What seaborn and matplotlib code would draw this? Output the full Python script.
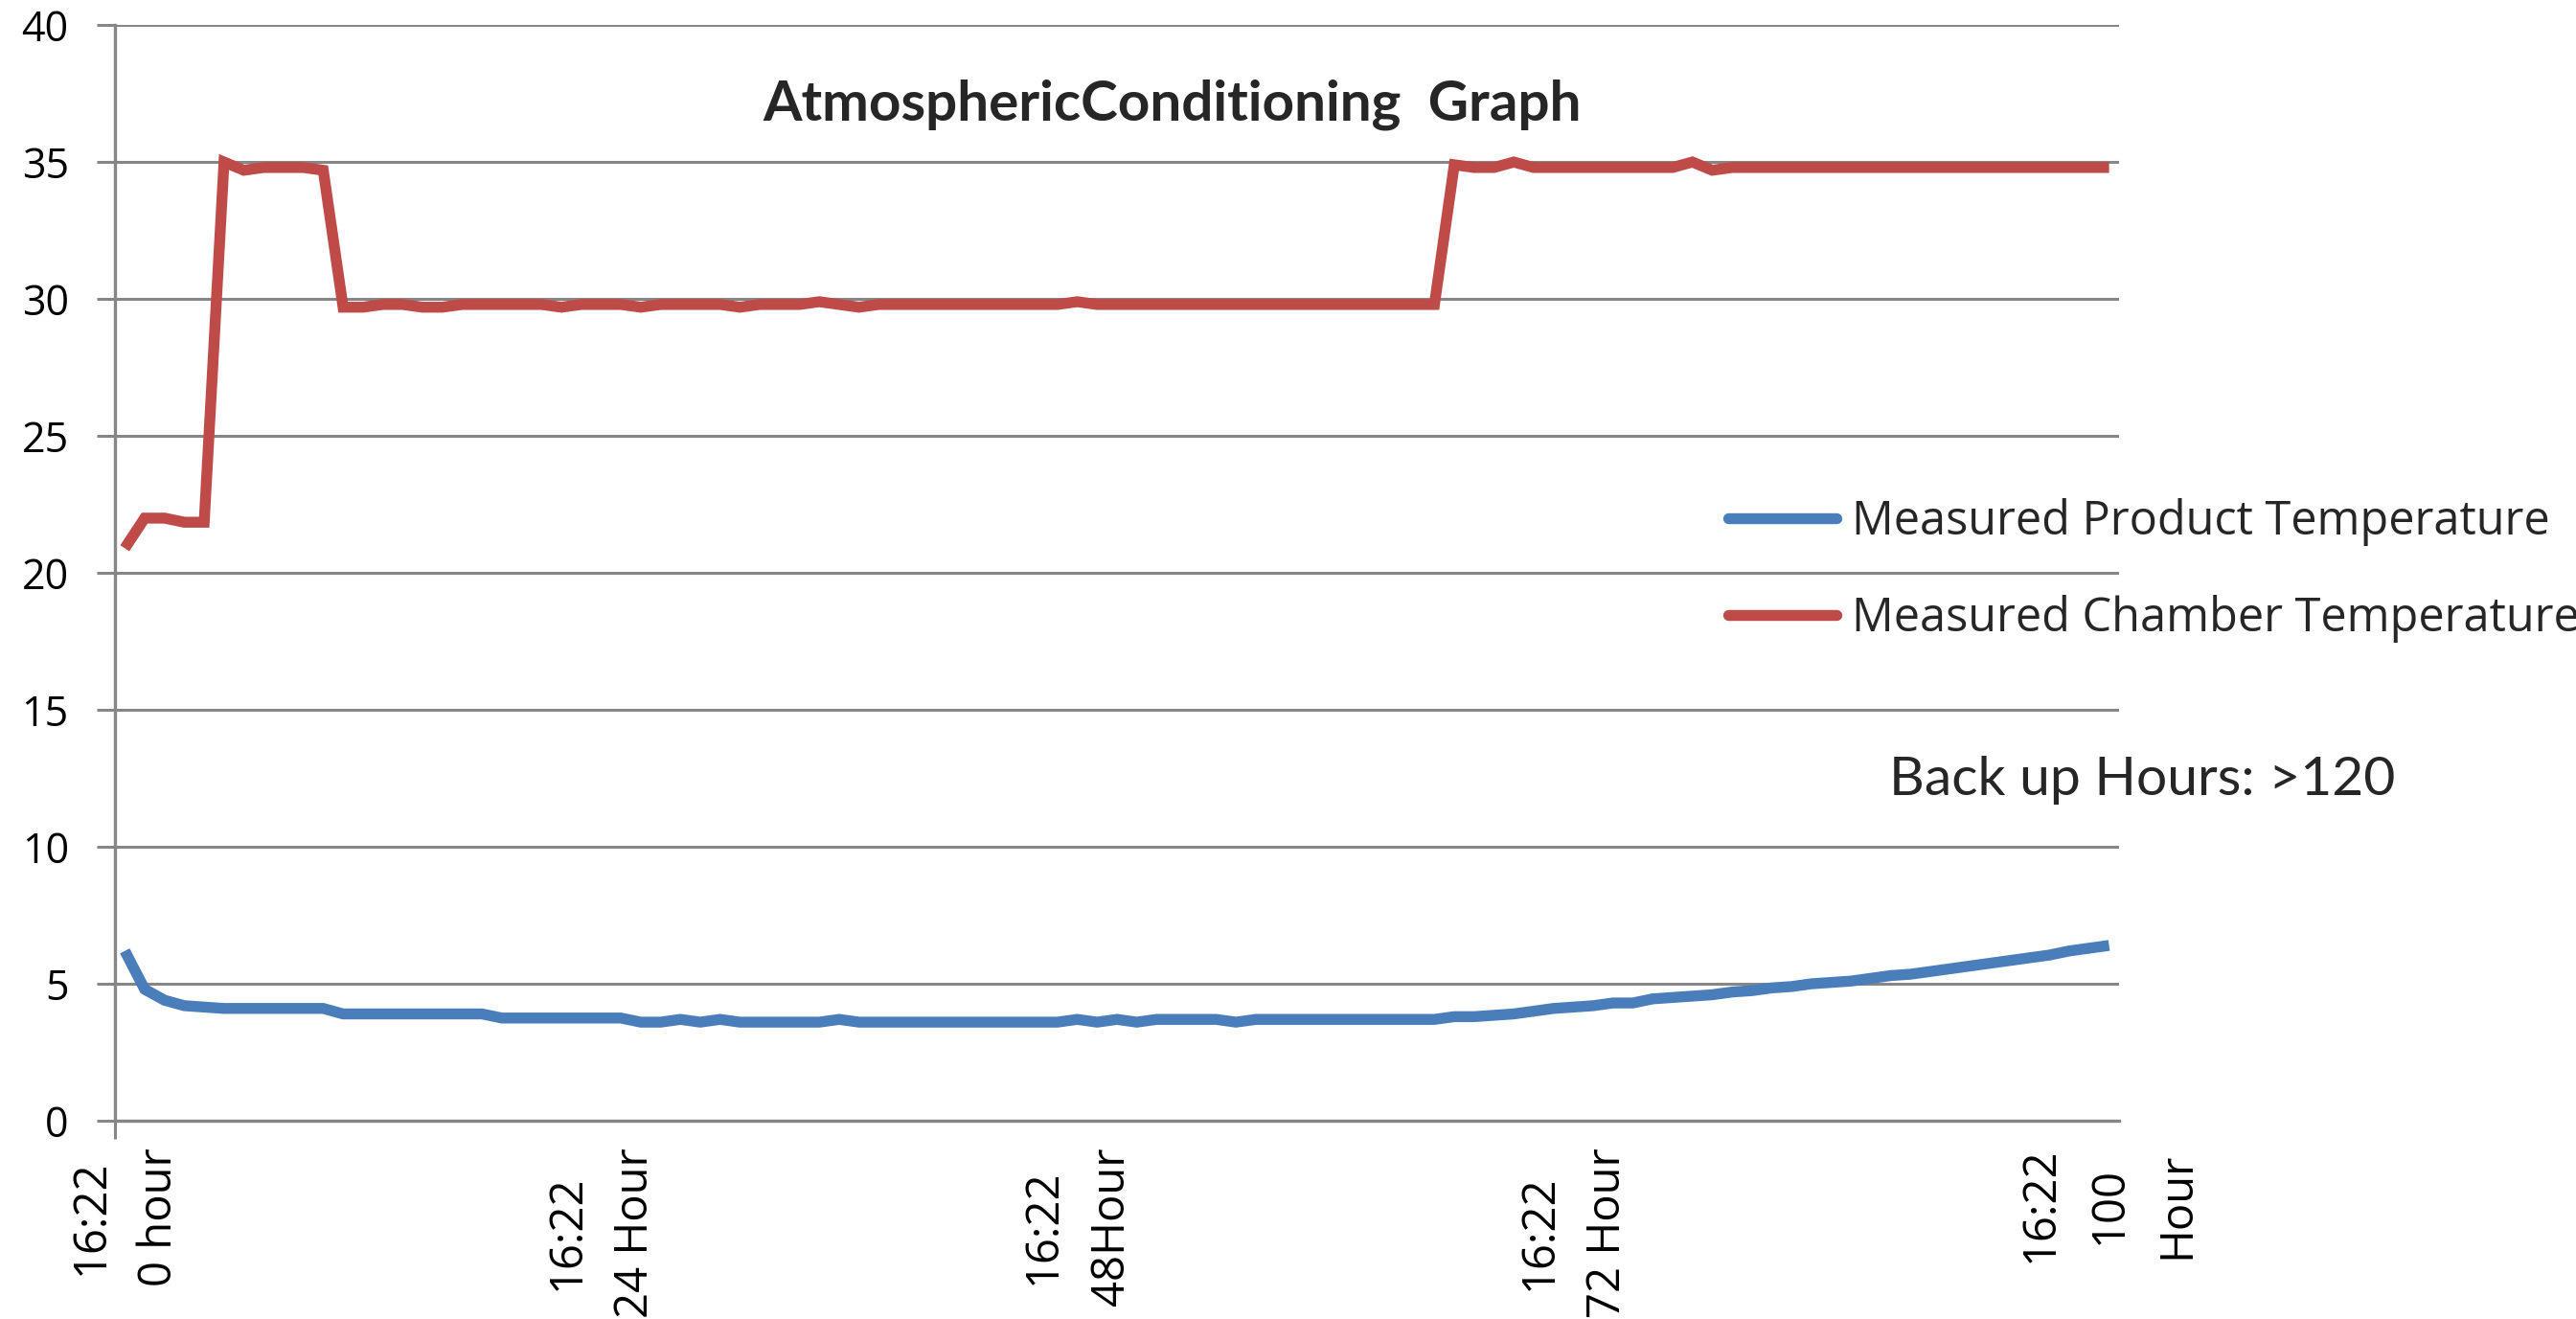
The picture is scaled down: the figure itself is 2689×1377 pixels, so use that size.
import numpy as np
import pandas as pd
import seaborn as sns
import matplotlib
matplotlib.use("Agg")
import matplotlib.pyplot as plt
from matplotlib.lines import Line2D

# ---------------- data ----------------
hours = list(range(101))

product_temp = [
    6.2, 4.8, 4.4, 4.2, 4.15, 4.1, 4.1, 4.1, 4.1, 4.1,
    4.1, 3.9, 3.9, 3.9, 3.9, 3.9, 3.9, 3.9, 3.9, 3.75,
    3.75, 3.75, 3.75, 3.75, 3.75, 3.75, 3.6, 3.6, 3.7, 3.6,
    3.7, 3.6, 3.6, 3.6, 3.6, 3.6, 3.7, 3.6, 3.6, 3.6,
    3.6, 3.6, 3.6, 3.6, 3.6, 3.6, 3.6, 3.6, 3.7, 3.6,
    3.7, 3.6, 3.7, 3.7, 3.7, 3.7, 3.6, 3.7, 3.7, 3.7,
    3.7, 3.7, 3.7, 3.7, 3.7, 3.7, 3.7, 3.8, 3.8, 3.85,
    3.9, 4.0, 4.1, 4.15, 4.2, 4.3, 4.3, 4.45, 4.5, 4.55,
    4.6, 4.7, 4.75, 4.85, 4.9, 5.0, 5.05, 5.1, 5.2, 5.3,
    5.35, 5.45, 5.55, 5.65, 5.75, 5.85, 5.95, 6.05, 6.2, 6.3,
    6.4,
]

chamber_temp = [
    20.9, 22.0, 22.0, 21.85, 21.85, 35.0, 34.7, 34.8, 34.8, 34.8,
    34.7, 29.7, 29.7, 29.8, 29.8, 29.7, 29.7, 29.8, 29.8, 29.8,
    29.8, 29.8, 29.7, 29.8, 29.8, 29.8, 29.7, 29.8, 29.8, 29.8,
    29.8, 29.7, 29.8, 29.8, 29.8, 29.9, 29.8, 29.7, 29.8, 29.8,
    29.8, 29.8, 29.8, 29.8, 29.8, 29.8, 29.8, 29.8, 29.9, 29.8,
    29.8, 29.8, 29.8, 29.8, 29.8, 29.8, 29.8, 29.8, 29.8, 29.8,
    29.8, 29.8, 29.8, 29.8, 29.8, 29.8, 29.8, 34.9, 34.8, 34.8,
    35.0, 34.8, 34.8, 34.8, 34.8, 34.8, 34.8, 34.8, 34.8, 35.0,
    34.7, 34.8, 34.8, 34.8, 34.8, 34.8, 34.8, 34.8, 34.8, 34.8,
    34.8, 34.8, 34.8, 34.8, 34.8, 34.8, 34.8, 34.8, 34.8, 34.8,
    34.8,
]

series_names = ["Measured Product Temperature", "Measured Chamber Temperature"]
series_colors = ["#4A7EBB", "#BE4B48"]

tick_positions = [0, 24, 48, 73, 100]
tick_labels = ["16:22\n0 hour", "16:22\n24 Hour", "16:22\n48Hour",
               "16:22\n72 Hour", "16:22\n100\nHour"]
y_ticks = [0, 5, 10, 15, 20, 25, 30, 35, 40]

title_text = "AtmosphericConditioning  Graph"
note_text = "Back up Hours: >120"

df = pd.DataFrame({
    "hour": hours * 2,
    "temp": product_temp + chamber_temp,
    "series": [series_names[0]] * len(hours) + [series_names[1]] * len(hours),
})

# ---------------- style ----------------
sns.set_style("white")
plt.rcParams["font.family"] = ["Lato", "DejaVu Sans"]
TICKFONT = ["Open Sans", "DejaVu Sans"]

GRID = "#868686"
fig = plt.figure(figsize=(26.89, 13.77), dpi=100)
ax = fig.add_axes([0.0446, 0.1503, 0.778, 0.8307])

sns.lineplot(data=df, x="hour", y="temp", hue="series",
             palette=dict(zip(series_names, series_colors)),
             linewidth=8.2, ax=ax, legend=False)
for ln in ax.get_lines():
    ln.set_solid_joinstyle("miter")
    ln.set_solid_capstyle("butt")

ax.set_xlim(-0.5, 100.5)
ax.set_ylim(0, 40)
ax.set_xlabel("")
ax.set_ylabel("")

ax.set_yticks(y_ticks)
ax.set_yticklabels([str(v) for v in y_ticks], family=TICKFONT)
ax.yaxis.grid(True, color=GRID, linewidth=2.2)
ax.xaxis.grid(False)
ax.set_axisbelow(True)

for side in ["top", "right"]:
    ax.spines[side].set_visible(False)
for side in ["left", "bottom"]:
    ax.spines[side].set_color(GRID)
    ax.spines[side].set_linewidth(2.4)

ax.tick_params(axis="y", length=13.7, width=2.2, color=GRID, pad=21,
               labelsize=31, labelcolor="black", left=True)

ax.set_xticks(tick_positions)
ax.set_xticklabels(tick_labels, rotation=90, ha="center", va="top",
                   multialignment="center", linespacing=1.65,
                   family=TICKFONT)
ax.tick_params(axis="x", which="major", length=0, pad=20, labelsize=34,
               labelcolor="black", bottom=True)
ax.set_xticks([-0.5], minor=True)
ax.tick_params(axis="x", which="minor", length=13.7, width=2.2, color=GRID,
               bottom=True)

# legend
handles = [Line2D([0], [0], color=c, linewidth=8.2) for c in series_colors]
fig.legend(handles, series_names, loc="center left",
           bbox_to_anchor=(0.6709, 0.5675), bbox_transform=fig.transFigure,
           frameon=False, handlelength=2.33, handletextpad=0.33,
           labelspacing=1.05, borderpad=0, borderaxespad=0,
           prop={"family": TICKFONT, "size": 35})

fig.text(0.4552, 1 - 125 / 1377, title_text, ha="center", va="baseline",
         fontsize=42, fontweight="bold")
fig.text(1972 / 2689, 1 - 830 / 1377, note_text, ha="left", va="baseline",
         fontsize=41)

fig.savefig("out.png", dpi=100)
